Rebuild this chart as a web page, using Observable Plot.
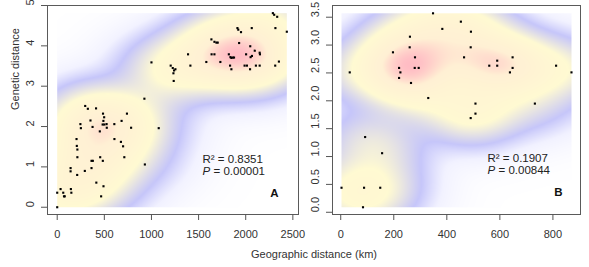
<!DOCTYPE html>
<html>
<head>
<meta charset="utf-8">
<script src="https://cdn.jsdelivr.net/npm/d3@7"></script>
<script src="https://cdn.jsdelivr.net/npm/@observablehq/plot@0.6"></script>
<style>
  html, body { margin: 0; padding: 0; background: #fff; overflow: hidden; }
  #wrap { position: relative; width: 589px; height: 267px; font-family: "Liberation Sans", Arial, sans-serif; }
  #pa { position: absolute; left: 0; top: 0; width: 310px; height: 240px; }
  #pb { position: absolute; left: 305px; top: 0; width: 284px; height: 240px; }
  #xt { position: absolute; left: 214px; width: 200px; top: 248px; line-height: 13px; text-align: center; font-size: 11px; color: #333; white-space: nowrap; }
  svg { overflow: visible; }
</style>
</head>
<body>
<div id="wrap">
  <div id="pa"></div>
  <div id="pb"></div>
  <div id="xt"></div>
</div>
<script>
// ---------- data ----------
const aGeo = [0, 0, 36, 64, 72, 80, 142, 142, 145, 150, 205, 208, 214, 214, 212, 246, 251, 297, 325, 293,
  353, 375, 364, 378, 364, 412, 415, 452, 456, 466, 484, 486, 498, 490, 482, 500, 524, 526, 491, 606,
  607, 683, 676, 699, 712, 740, 784, 925, 930, 1000, 1077,
  1204, 1226, 1240, 1254, 1233, 1236, 1388, 1413, 1582, 1636, 1638, 1668, 1668, 1689, 1703, 1731, 1821,
  1838, 1848, 1862, 1876, 1834, 1848, 1912, 1921, 1950, 1930, 1988, 2013, 2004, 2048, 2052, 2066, 2046,
  2064, 2096, 2108, 2148, 2148, 2151, 2288, 2302, 2334, 2315, 2313, 2352, 2436];
const aGen = [0.00, 0.36, 0.45, 0.36, 0.27, 0.27, 0.97, 0.89, 0.45, 0.36, 1.69, 1.52, 1.43, 1.24, 0.80, 2.06, 1.96, 2.51, 2.44, 0.90,
  2.15, 1.99, 1.15, 1.15, 0.97, 2.45, 0.61, 1.88, 1.24, 0.27, 1.15, 2.32, 2.23, 2.14, 2.05, 2.05, 2.06, 1.97, 0.52, 2.06,
  1.69, 2.14, 1.62, 1.51, 1.24, 2.32, 1.97, 2.69, 1.06, 3.59, 1.96,
  3.51, 3.45, 3.39, 3.42, 3.32, 3.13, 3.79, 3.51, 3.60, 4.16, 3.79, 3.79, 4.10, 4.08, 4.08, 3.60, 3.79,
  3.72, 3.70, 3.71, 3.71, 3.51, 3.42, 4.44, 4.40, 4.34, 4.07, 3.51, 3.51, 3.79, 3.99, 3.72, 3.75, 3.42,
  4.44, 3.88, 3.51, 3.51, 3.83, 3.79, 4.81, 4.77, 4.72, 4.44, 3.51, 3.61, 4.35];

const bGeo = [3, 84, 88, 149, 92, 156, 34, 197, 220, 225, 220, 261, 260, 265, 280, 279, 294, 348, 383, 453,
  491, 490, 465, 330, 508, 508, 490, 560, 590, 590, 648, 648, 638, 732, 812, 870];
const bGen = [0.44, 0.09, 0.44, 0.44, 1.35, 1.06, 2.51, 2.87, 2.59, 2.51, 2.41, 3.15, 2.96, 2.32, 2.78, 2.59, 2.59, 3.57, 3.29, 3.42,
  3.24, 2.96, 2.78, 2.05, 1.95, 1.77, 1.69, 2.63, 2.72, 2.63, 2.78, 2.59, 2.51, 1.95, 2.63, 2.51];

const aXTicks = [0, 500, 1000, 1500, 2000, 2500];
const aYTicks = [0, 1, 2, 3, 4, 5];
const bXTicks = [0, 200, 400, 600, 800];
const bYTicks = [0, 0.5, 1, 1.5, 2, 2.5, 3, 3.5];

const aStats = {r2: "R² = 0.8351", p: "= 0.00001", letter: "A"};
const bStats = {r2: "R² = 0.1907", p: "= 0.00844", letter: "B"};
const xTitle = "Geographic distance (km)";
const yTitle = "Genetic distance";

// ---------- helpers ----------
const FONT = "'Liberation Sans', Arial, sans-serif";

function makeDensity(xs, ys, bwx, bwy, power) {
  const x1 = d3.min(xs), x2 = d3.max(xs), y1 = d3.min(ys), y2 = d3.max(ys);
  const hx = (x2 - x1) * bwx, hy = (y2 - y1) * bwy;
  const f = (x, y) => {
    let s = 0;
    for (let i = 0; i < xs.length; i++) {
      const dx = (x - xs[i]) / hx, dy = (y - ys[i]) / hy;
      s += Math.exp(-0.5 * (dx * dx + dy * dy));
    }
    return s;
  };
  let m = 0;
  for (let i = 0; i <= 120; i++)
    for (let j = 0; j <= 120; j++)
      m = Math.max(m, f(x1 + (x2 - x1) * i / 120, y1 + (y2 - y1) * j / 120));
  return {fn: (x, y) => Math.pow(f(x, y) / m, power), x1, x2, y1, y2};
}

function panel({geo, gen, xDomain, yDomain, xTicks, yTicks, yFmt, stats, width, marginLeft, marginRight, showYTitle, rDx, rDy, lDx, lDy}) {
  const pts = geo.map((x, i) => ({x, y: gen[i]}));
  const dens = makeDensity(geo, gen, 0.13, 0.1, 0.5);
  const marks = [
    Plot.raster({fill: dens.fn, x1: dens.x1, x2: dens.x2, y1: dens.y1, y2: dens.y2, pixelSize: 1}),
    Plot.dot(pts, {x: "x", y: "y", r: 1.2, symbol: "square", fill: "black"}),
    Plot.frame({stroke: "#5a5a5a"}),
    Plot.axisX(xTicks, {tickSize: 6, tickPadding: 10, label: null, fontSize: 11, stroke: "#555", fill: "#333", tickFormat: d3.format("d")}),
    Plot.axisY(yTicks, {tickSize: 6, fill: "none", stroke: "#555", label: null}),
    Plot.text(yTicks, {y: d => d, frameAnchor: "left", dx: -17, rotate: -90, text: yFmt, fontSize: 11, fill: "#333"}),
    Plot.text([stats.r2], {frameAnchor: "bottom-right", dx: rDx, dy: rDy, textAnchor: "start", text: d => d, fontSize: 11.5, fill: "#222"}),
    Plot.text(["P"], {frameAnchor: "bottom-right", dx: rDx, dy: rDy + 12.5, textAnchor: "start", text: d => d, fontSize: 11.5, fontStyle: "italic", fill: "#222"}),
    Plot.text([stats.p], {frameAnchor: "bottom-right", dx: rDx + 11, dy: rDy + 12.5, textAnchor: "start", text: d => d, fontSize: 11.5, fill: "#222"}),
    Plot.text([stats.letter], {frameAnchor: "bottom-right", dx: lDx, dy: lDy, text: d => d, fontSize: 11.5, fontWeight: "bold", fill: "#111"})
  ];
  if (showYTitle) marks.push(Plot.text([yTitle], {frameAnchor: "left", dx: -32, rotate: -90, text: d => d, fontSize: 11, fill: "#333"}));
  return Plot.plot({
    width, height: 240,
    marginLeft, marginRight, marginTop: 5, marginBottom: 26,
    x: {domain: xDomain},
    y: {domain: yDomain},
    color: {type: "linear", domain: [0, 0.15, 0.3, 0.55, 0.86, 1], range: ["#ffffff", "#f2f2ff", "#c6c6fa", "#fffad2", "#fff0d4", "#ffbcc4"], clamp: true},
    style: {fontFamily: FONT, fontSize: "11px", color: "#333", background: "transparent", overflow: "visible"},
    marks
  });
}

document.getElementById("pa").append(panel({
  geo: aGeo, gen: aGen, xDomain: [-103, 2560], yDomain: [-0.18, 5.0],
  xTicks: aXTicks, yTicks: aYTicks, yFmt: d => d3.format("d")(d), stats: aStats,
  width: 310, marginLeft: 47, marginRight: 12, showYTitle: true,
  rDx: -96, rDy: -52, lDx: -20, lDy: -18
}));
document.getElementById("pb").append(panel({
  geo: bGeo, gen: bGen, xDomain: [-31, 904], yDomain: [-0.04, 3.71],
  xTicks: bXTicks, yTicks: bYTicks, yFmt: d => d3.format(".1f")(d), stats: bStats,
  width: 284, marginLeft: 27, marginRight: 9, showYTitle: false,
  rDx: -93, rDy: -53, lDx: -18, lDy: -19
}));
document.getElementById("xt").textContent = xTitle;
</script>
</body>
</html>
